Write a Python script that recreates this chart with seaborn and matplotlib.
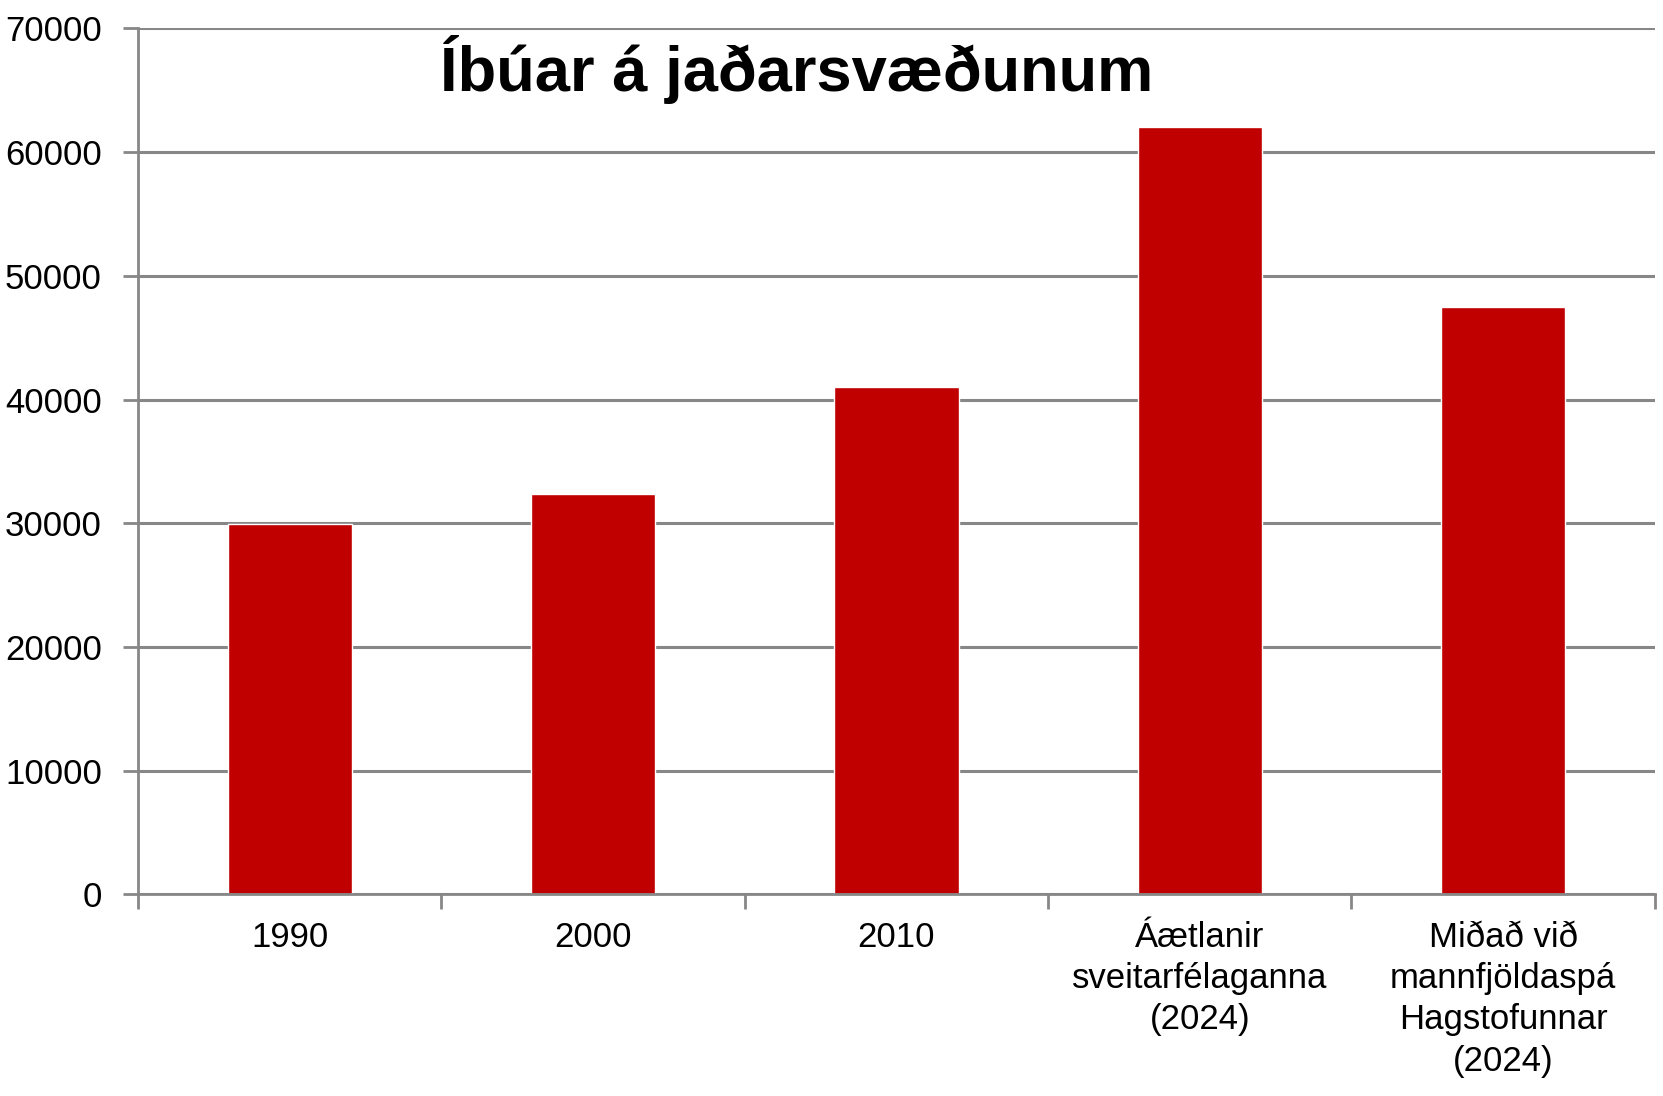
import matplotlib
matplotlib.use("Agg")
import matplotlib.pyplot as plt
import seaborn as sns

# Population in the fringe areas
categories = ["1990", "2000", "2010",
              "Áætlanir\nsveitarfélaganna\n(2024)",
              "Miðað við\nmannfjöldaspá\nHagstofunnar\n(2024)"]
residents = [29900, 32400, 41000, 62000, 47500]
y_ticks = [0, 10000, 20000, 30000, 40000, 50000, 60000, 70000]
title = "Íbúar á jaðarsvæðunum"

sns.set_style("white")
plt.rcParams['font.family'] = ['Liberation Sans', 'DejaVu Sans']
plt.rcParams['text.color'] = 'black'
plt.rcParams['xtick.labelcolor'] = 'black'
plt.rcParams['ytick.labelcolor'] = 'black'

fig = plt.figure(figsize=(16.63, 10.96), dpi=100)
ax = fig.add_axes([0.083, 0.184, 0.912, 0.790])

sns.barplot(x=categories, y=residents, color="#C00000", saturation=1,
            width=0.41, ax=ax)

grey = "#878787"
ax.set_ylim(0, 70000)
ax.set_yticks(y_ticks)
ax.set_yticklabels([str(t) for t in y_ticks])
ax.yaxis.grid(True, color=grey, linewidth=2.2)
ax.set_axisbelow(True)

# category boundaries carry the tick marks, the centres carry the labels
ax.set_xlim(-0.5, len(categories) - 0.5)
ax.set_xticks([i - 0.5 for i in range(len(categories) + 1)])
ax.set_xticklabels([])
ax.set_xticks(range(len(categories)), minor=True)
ax.set_xticklabels(categories, minor=True, fontsize=25, linespacing=1.32)
ax.tick_params(axis="x", which="major", direction="out", length=11,
               width=2, color=grey, bottom=True)
ax.tick_params(axis="x", which="minor", length=0, pad=19)
ax.tick_params(axis="y", direction="out", length=11, width=2, color=grey,
               left=True, labelsize=25, pad=15)

for side in ["top", "right"]:
    ax.spines[side].set_visible(False)
for side in ["left", "bottom"]:
    ax.spines[side].set_color(grey)
    ax.spines[side].set_linewidth(2)

ax.set_xlabel("")
ax.set_ylabel("")

ax.text(0.434, 0.953, title, transform=ax.transAxes, ha="center", va="center",
        fontsize=45.5, fontweight="bold", color="black",
        family=['Liberation Sans Narrow', 'Liberation Sans', 'DejaVu Sans'])

fig.savefig("out.png", dpi=100)
